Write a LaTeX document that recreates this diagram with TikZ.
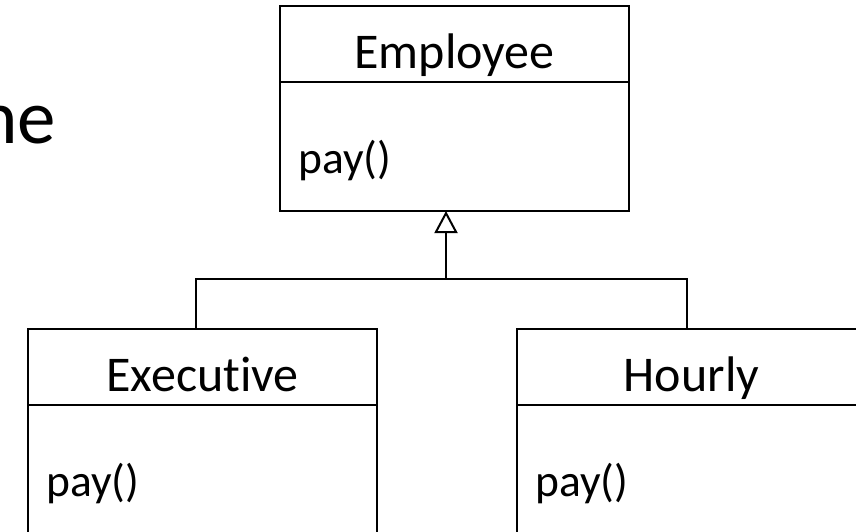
\documentclass[tikz,border=0pt]{standalone}
\usepackage{fontspec}
\setmainfont{Carlito}[Ligatures=CommonOff]
\usetikzlibrary{positioning,arrows.meta}
\tikzset{
  classhead/.style={draw,line width=2pt,inner sep=0pt,outer sep=0pt,minimum width=349pt,minimum height=76pt,
    font=\fontsize{50}{54}\selectfont,text height=49pt,text depth=0pt},
  classbody/.style={draw,line width=2pt,inner sep=0pt,outer sep=0pt,minimum width=349pt,minimum height=129pt},
  method/.style={anchor=base west,inner sep=0pt,font=\fontsize{45.5}{50}\selectfont},
  inherit/.style={line width=2pt,-{Triangle[open,width=23pt,length=22pt]}}
}
\begin{document}
\begin{tikzpicture}[x=1pt,y=-1pt]
      \useasboundingbox (0,0) rectangle (856,532);
      \clip (0,0) rectangle (856,532);
      \node[anchor=base east,inner sep=0pt,font=\fontsize{77}{80}\selectfont] (slidetext) at (56,143) {ne};
      % superclass
      \node[classhead] (emphead) at (454.5,44) {Employee};
      \node[classbody,below=0pt of emphead] (empbody) {};
      \node[method] (emppay) at ([xshift=18pt,yshift=-26.5pt]empbody.west) {pay()};
      % subclasses
      \node[classhead] (exehead) at (202.5,367) {Executive};
      \node[classbody,below=0pt of exehead] (exebody) {};
      \node[method] (exepay) at ([xshift=18pt,yshift=-26.5pt]exebody.west) {pay()};
      \node[classhead] (hrlhead) at (691.5,367) {Hourly};
      \node[classbody,below=0pt of hrlhead] (hrlbody) {};
      \node[method] (hrlpay) at ([xshift=18pt,yshift=-26.5pt]hrlbody.west) {pay()};
      \coordinate (joint) at ([xshift=-8.5pt]empbody.south |- 0,279);
      \draw[inherit] (joint) -- ([xshift=-8.5pt]empbody.south);
      \draw[line width=2pt] ([xshift=-6.5pt]exehead.north) |- ([xshift=-4.5pt]hrlhead.north |- joint) -- ([xshift=-4.5pt]hrlhead.north);
\end{tikzpicture}
\end{document}
